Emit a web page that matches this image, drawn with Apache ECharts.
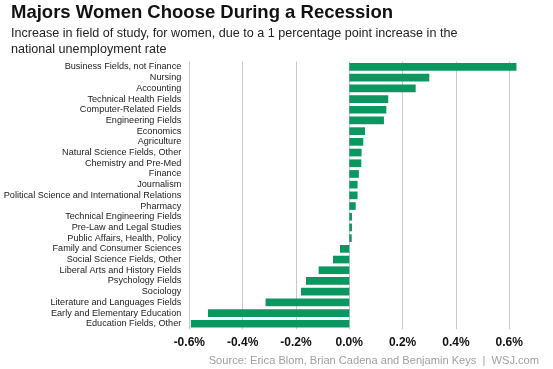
<!DOCTYPE html>
<html><head><meta charset="utf-8">
<script src="https://cdn.jsdelivr.net/npm/echarts@6/dist/echarts.min.js"></script>
<style>html,body{margin:0;padding:0;background:#fff}#c{width:553px;height:369px}</style>
</head><body><div id="c"></div>
<script>
const categories = [
  "Business Fields, not Finance","Nursing","Accounting","Technical Health Fields",
  "Computer-Related Fields","Engineering Fields","Economics","Agriculture",
  "Natural Science Fields, Other","Chemistry and Pre-Med","Finance","Journalism",
  "Political Science and International Relations","Pharmacy","Technical Engineering Fields",
  "Pre-Law and Legal Studies","Public Affairs, Health, Policy","Family and Consumer Sciences",
  "Social Science Fields, Other","Liberal Arts and History Fields","Psychology Fields",
  "Sociology","Literature and Languages Fields","Early and Elementary Education",
  "Education Fields, Other"
];
const values = [
  0.627,0.30,0.249,0.146,0.139,0.13,0.059,0.0525,0.046,0.045,0.036,0.031,
  0.031,0.024,0.01,0.01,0.009,-0.035,-0.061,-0.115,-0.1625,-0.181,-0.314,-0.53,-0.594
];
const xTicks = { min: -0.6, max: 0.65, interval: 0.2 };
const title = "Majors Women Choose During a Recession";
const subtitle = "Increase in field of study, for women, due to a 1 percentage point increase in the\nnational unemployment rate";
const source = "Source: Erica Blom, Brian Cadena and Benjamin Keys  |  WSJ.com";

const chart = echarts.init(document.getElementById('c'), null, {renderer:'canvas'});
chart.setOption({
  animation: false,
  textStyle: { fontFamily: 'Liberation Sans, Arial, sans-serif' },
  title: [
    { text: title, left: 11, top: 3, padding: 0,
      textStyle: { fontSize: 18.5, fontWeight: 'bold', color: '#111', lineHeight: 20, fontFamily: 'Liberation Sans' } },
    { text: subtitle, left: 11, top: 26, padding: 0,
      textStyle: { fontSize: 12.6, fontWeight: 'normal', color: '#222', lineHeight: 15.5, fontFamily: 'Liberation Sans' } },
    { text: source, right: 14, top: 355, padding: 0,
      textStyle: { fontSize: 11.1, fontWeight: 'normal', color: '#a0a0a0', lineHeight: 12, fontFamily: 'Liberation Sans' } }
  ],
  grid: { left: 189.3, right: 553 - 522.6, top: 61.6, bottom: 369 - 329.1, containLabel: false, outerBoundsMode: 'none' },
  xAxis: {
    type: 'value', min: xTicks.min, max: xTicks.max, interval: xTicks.interval,
    axisLine: { show: false }, axisTick: { show: false },
    splitLine: { show: true, showMaxLine: false, lineStyle: { color: '#c8c8c8', width: 1 } },
    axisLabel: { showMaxLabel: false, margin: 8, fontSize: 12, fontWeight: 'bold', color: '#111',
      formatter: v => v.toFixed(1) + '%' }
  },
  yAxis: {
    type: 'category', data: categories, inverse: true,
    axisLine: { show: false }, axisTick: { show: false },
    axisLabel: { fontSize: 9.15, color: '#222', margin: 8, interval: 0 }
  },
  series: [{
    type: 'bar', data: values, barWidth: 7.7,
    itemStyle: { color: '#0a9760' }
  }]
});
</script></body></html>
